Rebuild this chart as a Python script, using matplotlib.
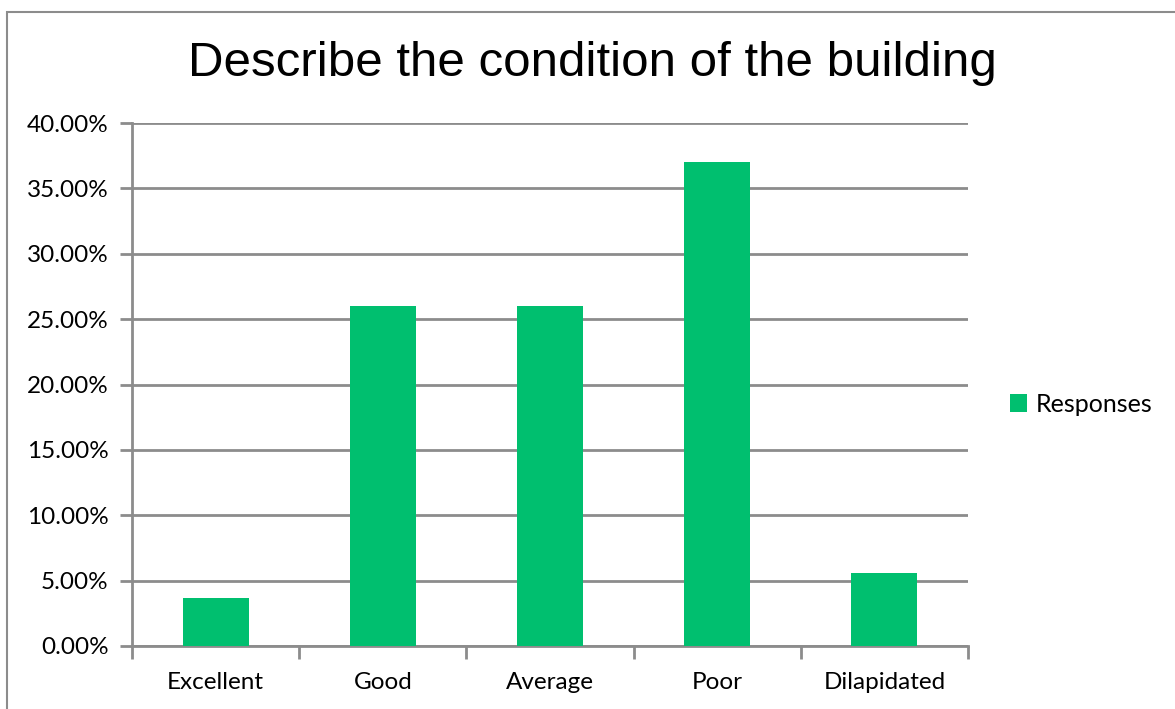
import matplotlib
matplotlib.use("Agg")
import matplotlib.pyplot as plt
from matplotlib.patches import Rectangle
from matplotlib.ticker import FuncFormatter, MultipleLocator

categories = ["Excellent", "Good", "Average", "Poor", "Dilapidated"]
responses = [3.67, 26.0, 26.0, 37.0, 5.58]

green = "#00BF6F"
grid_gray = "#8C8C8C"

fig = plt.figure(figsize=(11.75, 7.09), dpi=100)

# outer chart border (only top and left edges show in the reference)
fig.patches.append(Rectangle((7 / 1175, -0.1), 1.2, 1 - 12 / 709 + 0.1,
                             transform=fig.transFigure, fill=False,
                             edgecolor=grid_gray, linewidth=1.5))

ax = fig.add_axes([132 / 1175, 1 - 646 / 709, (968 - 132) / 1175, (646 - 123) / 709])

x = range(len(categories))
ax.bar(x, responses, width=0.395, color=green, label="Responses", zorder=3)

ax.set_xlim(-0.5, len(categories) - 0.5)
ax.set_ylim(0, 40)
ax.yaxis.set_major_locator(MultipleLocator(5))
ax.yaxis.set_major_formatter(FuncFormatter(lambda v, p: f"{v:.2f}%"))
ax.grid(axis="y", color=grid_gray, linewidth=2, zorder=0)

ax.set_xticks(list(x))
ax.set_xticklabels(categories)
ax.set_xticks([i - 0.5 for i in range(len(categories) + 1)], minor=True)
ax.tick_params(axis="x", which="major", length=0, pad=19, labelsize=17.5)
ax.tick_params(axis="x", which="minor", length=9, width=2, color=grid_gray)
ax.tick_params(axis="y", length=9, width=2, color=grid_gray, pad=8, labelsize=17.5)
for lab in ax.get_xticklabels() + ax.get_yticklabels():
    lab.set_fontfamily(["Lato", "DejaVu Sans"])

for side in ["top", "right"]:
    ax.spines[side].set_visible(False)
for side in ["left", "bottom"]:
    ax.spines[side].set_color(grid_gray)
    ax.spines[side].set_linewidth(2)

fig.text(592 / 1175, 1 - 64 / 709, "Describe the condition of the building",
         ha="center", va="center", fontsize=35.5, family="Liberation Sans")

fig.legend(loc="center left", bbox_to_anchor=(987 / 1175, 1 - 404 / 709),
           frameon=False, handlelength=0.7, handleheight=0.7, handletextpad=0.35,
           prop={"family": "Lato", "size": 18})

fig.savefig("out.png", dpi=100)
